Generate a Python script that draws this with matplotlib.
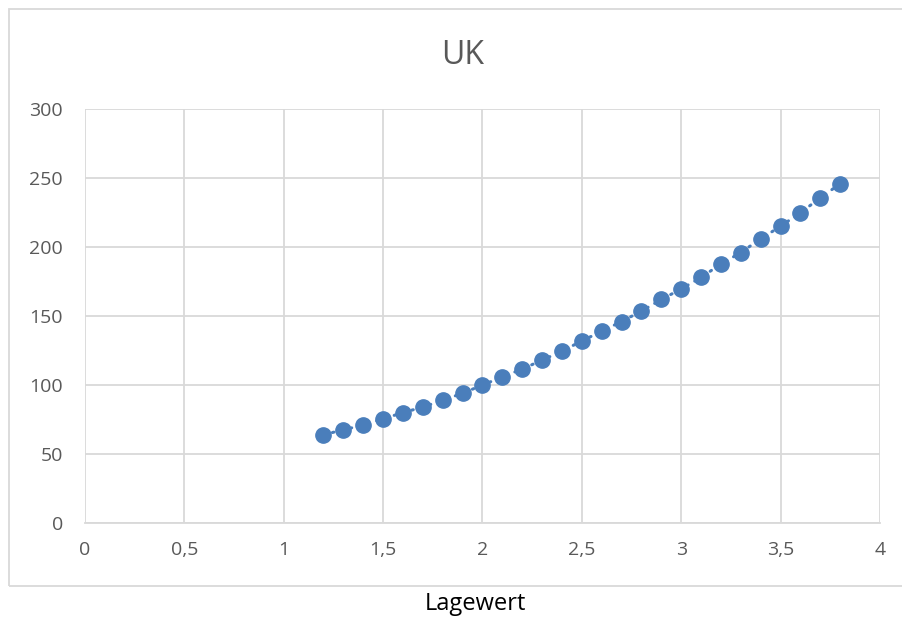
import matplotlib
matplotlib.use("Agg")
import matplotlib.pyplot as plt
from matplotlib.patches import Rectangle
from matplotlib.ticker import FuncFormatter

plt.rcParams['font.family'] = ['Open Sans', 'DejaVu Sans']

lagewert = [1.2, 1.3, 1.4, 1.5, 1.6, 1.7, 1.8, 1.9, 2.0, 2.1, 2.2, 2.3, 2.4, 2.5,
            2.6, 2.7, 2.8, 2.9, 3.0, 3.1, 3.2, 3.3, 3.4, 3.5, 3.6, 3.7, 3.8]
uk = [64, 67.5, 71, 75.5, 80, 84, 89, 94, 100, 105.8, 111.6, 118, 124.6, 131.9,
      139, 146, 153.6, 162, 169.6, 178, 187.7, 196, 206, 215, 225, 235.5, 246]
x_ticks = [0, 0.5, 1, 1.5, 2, 2.5, 3, 3.5, 4]
y_ticks = [0, 50, 100, 150, 200, 250, 300]

fig = plt.figure(figsize=(9.03, 6.2), dpi=100)
fig.patches.append(Rectangle((9/903, 1-586/620), 1.0, (586-9)/620, transform=fig.transFigure,
                             fill=False, edgecolor='#d9d9d9', linewidth=1.3))
ax = fig.add_axes([85/903, 1-523/620, (880-85)/903, (523-109)/620])

color = '#4a7ebb'
ax.plot(lagewert, uk, linestyle=(0, (0.5, 2.5)), dash_capstyle='round', color=color,
        linewidth=2.2, marker='o', markersize=11, markerfacecolor=color,
        markeredgecolor=color, zorder=3)

ax.set_xlim(0, 4)
ax.set_ylim(0, 300)
ax.set_xticks(x_ticks)
ax.set_yticks(y_ticks)
fmt = FuncFormatter(lambda v, p: ('%g' % v).replace('.', ','))
ax.xaxis.set_major_formatter(fmt)
ax.grid(True, color='#d9d9d9', linewidth=1.3)
ax.set_axisbelow(True)
for s in ax.spines.values():
    s.set_visible(False)
ax.spines['bottom'].set_visible(True)
ax.spines['bottom'].set_color('#d9d9d9')
ax.spines['bottom'].set_linewidth(1.3)
ax.tick_params(length=0, labelsize=14, labelcolor='#595959')
ax.tick_params(axis='x', pad=13)
ax.tick_params(axis='y', pad=16)

fig.text(463/903, 1-55/620, 'UK', ha='center', va='center', fontsize=23, color='#595959')
fig.text(475/903, 1-604/620, 'Lagewert', ha='center', va='center', fontsize=17, color='#000000')

fig.savefig('out.png', dpi=100)
